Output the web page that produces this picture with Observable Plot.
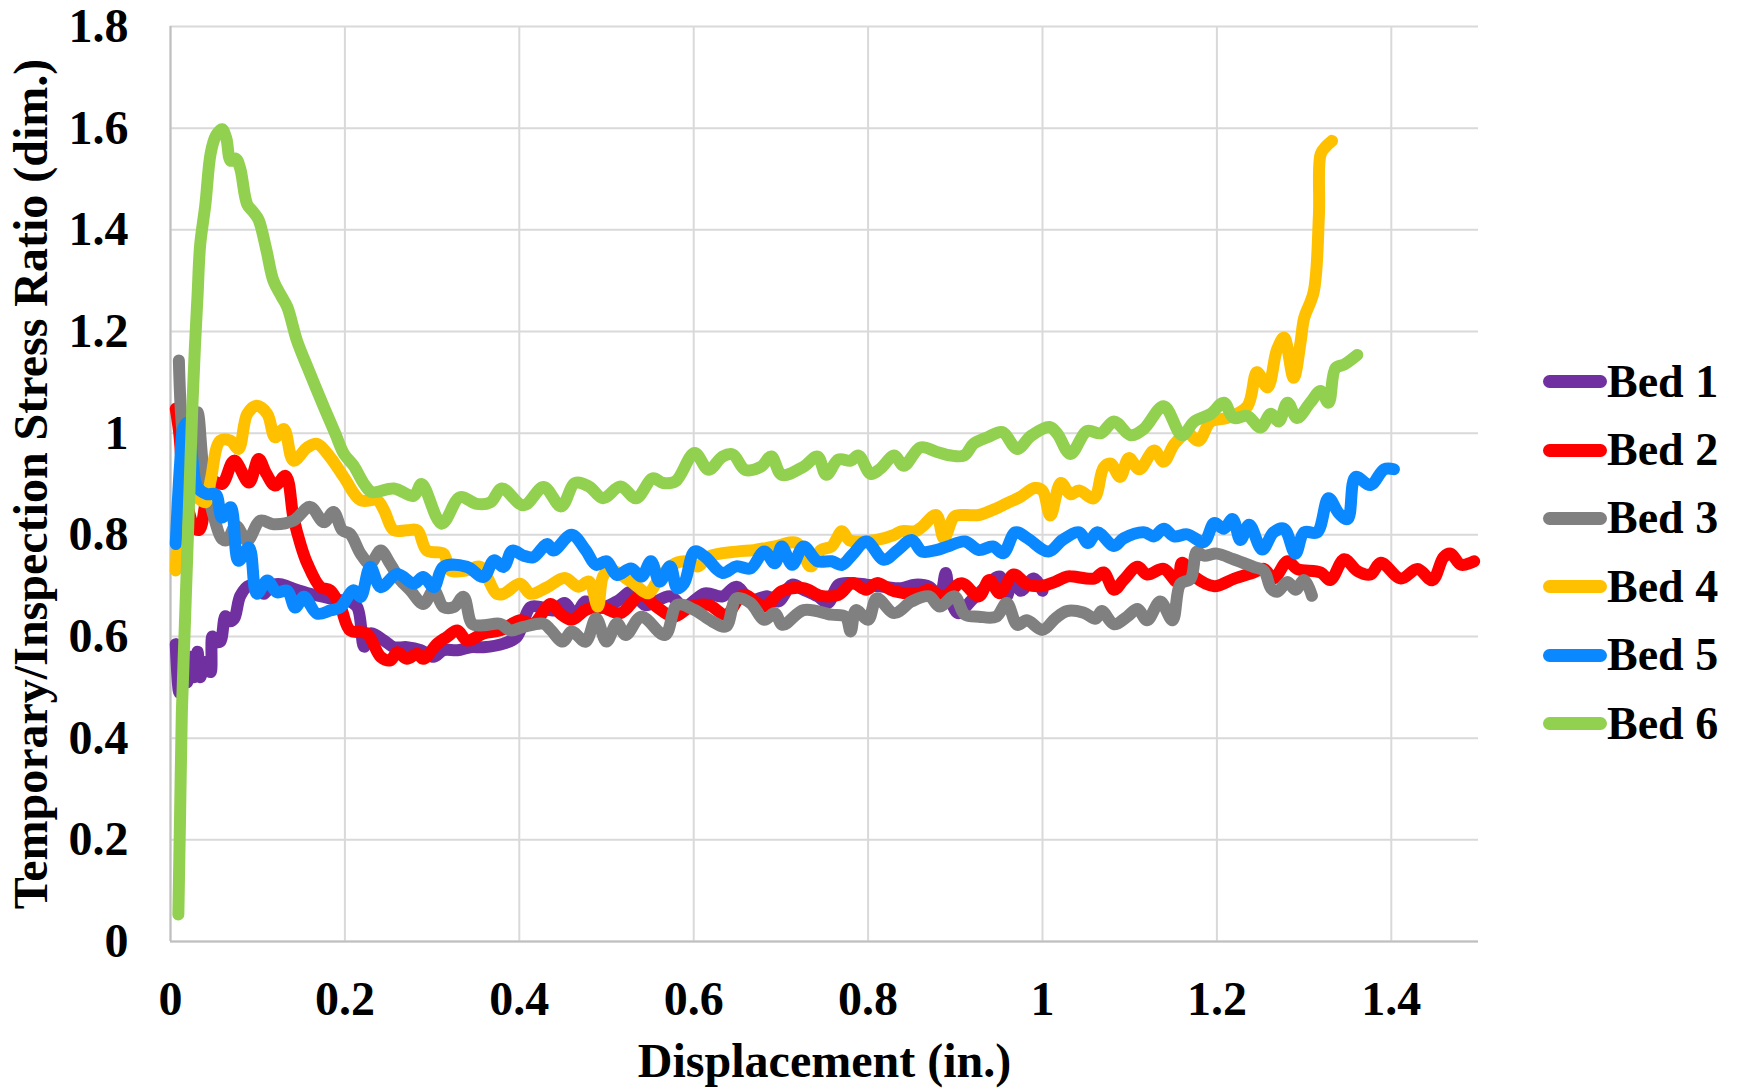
<!DOCTYPE html>
<html>
<head>
<meta charset="utf-8">
<script src="https://cdn.jsdelivr.net/npm/d3@7"></script>
<script src="https://cdn.jsdelivr.net/npm/@observablehq/plot@0.6"></script>
<style>
  html, body { margin: 0; padding: 0; background: #fff; }
  #wrap { position: relative; width: 1744px; height: 1089px; overflow: hidden; }
  #legend { position: absolute; left: 1543px; top: 347.5px; font-family: "Liberation Serif", "Times New Roman", serif; font-weight: bold; }
  .row { display: flex; align-items: center; height: 68.4px; }
  .sw { width: 64px; height: 13px; border-radius: 6.5px; }
  .lab { font-size: 46px; line-height: 1; color: #000; }
</style>
</head>
<body>
<div id="wrap"><div id="legend"></div></div>
<script>
const seriesNames = ["Bed 1", "Bed 2", "Bed 3", "Bed 4", "Bed 5", "Bed 6"];
const seriesColors = ["#7030A0", "#FF0000", "#808080", "#FFC000", "#0A88FF", "#92D050"];
const xTicks = [0, 0.2, 0.4, 0.6, 0.8, 1, 1.2, 1.4];
const xTickLabels = ["0", "0.2", "0.4", "0.6", "0.8", "1", "1.2", "1.4"];
const yTicks = [0, 0.2, 0.4, 0.6, 0.8, 1, 1.2, 1.4, 1.6, 1.8];
const yTickLabels = ["0", "0.2", "0.4", "0.6", "0.8", "1", "1.2", "1.4", "1.6", "1.8"];
const xTitle = "Displacement (in.)";
const yTitle = "Temporary/Inspection Stress Ratio (dim.)";

const bed1 = [[0.006,0.585],[0.010,0.49],[0.015,0.55],[0.019,0.51],[0.023,0.56],[0.027,0.52],[0.031,0.57],[0.034,0.52],[0.040,0.55],[0.046,0.53],[0.048,0.60],[0.052,0.59],[0.057,0.59],[0.063,0.64],[0.068,0.63],[0.073,0.635],[0.080,0.68],[0.090,0.70],[0.100,0.695],[0.107,0.684],[0.115,0.70],[0.126,0.703],[0.141,0.694],[0.160,0.684],[0.176,0.678],[0.191,0.671],[0.202,0.671],[0.214,0.658],[0.222,0.58],[0.229,0.606],[0.245,0.592],[0.256,0.579],[0.271,0.579],[0.287,0.573],[0.302,0.560],[0.313,0.573],[0.329,0.573],[0.344,0.579],[0.359,0.579],[0.382,0.586],[0.397,0.599],[0.413,0.658],[0.424,0.658],[0.439,0.651],[0.452,0.666],[0.464,0.643],[0.476,0.669],[0.492,0.656],[0.512,0.669],[0.530,0.689],[0.544,0.662],[0.573,0.679],[0.589,0.659],[0.613,0.685],[0.633,0.679],[0.649,0.698],[0.665,0.672],[0.685,0.679],[0.697,0.669],[0.713,0.702],[0.726,0.692],[0.742,0.679],[0.754,0.666],[0.766,0.702],[0.782,0.705],[0.798,0.702],[0.818,0.698],[0.838,0.695],[0.854,0.702],[0.870,0.698],[0.882,0.679],[0.889,0.725],[0.893,0.685],[0.903,0.646],[0.919,0.672],[0.931,0.692],[0.939,0.705],[0.951,0.718],[0.959,0.679],[0.966,0.72],[0.975,0.69],[0.990,0.714],[1.0,0.69]];

const bed2 = [[0.006,1.048],[0.010,1.0],[0.015,0.90],[0.022,0.84],[0.027,0.815],[0.033,0.81],[0.040,0.861],[0.046,0.907],[0.059,0.900],[0.073,0.946],[0.090,0.903],[0.101,0.949],[0.110,0.92],[0.120,0.897],[0.132,0.916],[0.141,0.834],[0.149,0.782],[0.157,0.743],[0.172,0.697],[0.183,0.691],[0.195,0.658],[0.206,0.612],[0.225,0.606],[0.241,0.560],[0.252,0.553],[0.260,0.569],[0.271,0.556],[0.283,0.566],[0.290,0.556],[0.306,0.586],[0.317,0.599],[0.329,0.612],[0.340,0.592],[0.359,0.606],[0.378,0.612],[0.401,0.632],[0.416,0.625],[0.436,0.664],[0.447,0.645],[0.460,0.633],[0.476,0.652],[0.492,0.659],[0.516,0.646],[0.540,0.682],[0.557,0.659],[0.577,0.639],[0.597,0.659],[0.617,0.662],[0.637,0.643],[0.657,0.682],[0.681,0.659],[0.701,0.689],[0.726,0.695],[0.746,0.68],[0.766,0.682],[0.782,0.705],[0.798,0.692],[0.810,0.705],[0.830,0.689],[0.858,0.685],[0.870,0.692],[0.887,0.679],[0.907,0.705],[0.927,0.679],[0.939,0.711],[0.951,0.685],[0.967,0.722],[0.982,0.703],[0.998,0.699],[1.015,0.708],[1.028,0.718],[1.035,0.718],[1.059,0.714],[1.070,0.726],[1.082,0.692],[1.093,0.711],[1.109,0.737],[1.120,0.722],[1.139,0.733],[1.155,0.707],[1.160,0.745],[1.174,0.718],[1.197,0.699],[1.220,0.714],[1.242,0.726],[1.254,0.733],[1.265,0.714],[1.281,0.748],[1.292,0.733],[1.319,0.726],[1.330,0.711],[1.346,0.752],[1.361,0.729],[1.376,0.722],[1.388,0.745],[1.411,0.714],[1.430,0.733],[1.447,0.711],[1.460,0.756],[1.468,0.763],[1.480,0.741],[1.495,0.748]];

const bed3 = [[0.0096,1.143],[0.014,1.0],[0.020,0.95],[0.026,1.0],[0.031,1.041],[0.038,0.926],[0.050,0.834],[0.059,0.792],[0.065,0.79],[0.075,0.818],[0.088,0.789],[0.103,0.828],[0.118,0.821],[0.141,0.828],[0.160,0.855],[0.176,0.825],[0.187,0.845],[0.197,0.809],[0.206,0.802],[0.218,0.763],[0.229,0.743],[0.241,0.769],[0.252,0.743],[0.264,0.710],[0.275,0.691],[0.290,0.664],[0.302,0.691],[0.313,0.658],[0.325,0.658],[0.336,0.678],[0.346,0.625],[0.359,0.622],[0.378,0.625],[0.390,0.612],[0.405,0.619],[0.428,0.625],[0.436,0.613],[0.450,0.590],[0.460,0.610],[0.476,0.590],[0.488,0.636],[0.500,0.590],[0.512,0.626],[0.522,0.603],[0.540,0.639],[0.567,0.603],[0.581,0.662],[0.601,0.652],[0.621,0.630],[0.637,0.620],[0.649,0.675],[0.665,0.666],[0.681,0.633],[0.693,0.646],[0.702,0.623],[0.726,0.652],[0.758,0.643],[0.774,0.639],[0.780,0.610],[0.786,0.652],[0.800,0.633],[0.810,0.675],[0.830,0.646],[0.850,0.669],[0.870,0.679],[0.882,0.659],[0.899,0.679],[0.911,0.643],[0.927,0.639],[0.947,0.639],[0.959,0.666],[0.971,0.623],[0.982,0.632],[1.0,0.613],[1.015,0.636],[1.028,0.65],[1.047,0.647],[1.061,0.635],[1.068,0.650],[1.082,0.624],[1.097,0.639],[1.109,0.654],[1.120,0.632],[1.135,0.669],[1.149,0.632],[1.158,0.703],[1.170,0.714],[1.177,0.767],[1.185,0.759],[1.200,0.763],[1.219,0.752],[1.242,0.737],[1.254,0.729],[1.262,0.695],[1.269,0.688],[1.281,0.707],[1.290,0.692],[1.300,0.711],[1.309,0.680]];

const bed4 = [[0.006,0.73],[0.008,0.78],[0.015,0.84],[0.022,0.87],[0.029,0.874],[0.040,0.864],[0.046,0.907],[0.057,0.985],[0.069,0.985],[0.078,0.969],[0.088,1.038],[0.099,1.054],[0.111,1.038],[0.120,0.992],[0.130,1.008],[0.141,0.946],[0.157,0.972],[0.168,0.979],[0.183,0.953],[0.199,0.913],[0.218,0.868],[0.237,0.868],[0.245,0.848],[0.256,0.809],[0.271,0.809],[0.283,0.809],[0.294,0.769],[0.313,0.763],[0.321,0.730],[0.340,0.730],[0.355,0.737],[0.374,0.684],[0.382,0.684],[0.401,0.704],[0.413,0.684],[0.432,0.697],[0.452,0.715],[0.468,0.698],[0.480,0.708],[0.490,0.659],[0.496,0.718],[0.504,0.731],[0.528,0.708],[0.548,0.685],[0.557,0.705],[0.573,0.738],[0.589,0.748],[0.605,0.738],[0.617,0.757],[0.649,0.767],[0.669,0.770],[0.693,0.777],[0.718,0.784],[0.734,0.738],[0.746,0.770],[0.758,0.777],[0.770,0.807],[0.778,0.790],[0.790,0.787],[0.810,0.790],[0.830,0.800],[0.838,0.807],[0.854,0.807],[0.862,0.816],[0.878,0.839],[0.887,0.793],[0.899,0.836],[0.911,0.839],[0.927,0.839],[0.947,0.852],[0.959,0.862],[0.975,0.875],[0.991,0.892],[1.000,0.887],[1.009,0.838],[1.021,0.902],[1.032,0.880],[1.042,0.887],[1.059,0.872],[1.070,0.932],[1.078,0.940],[1.089,0.914],[1.099,0.951],[1.111,0.929],[1.128,0.966],[1.139,0.944],[1.151,0.978],[1.166,1.0],[1.179,0.985],[1.193,1.023],[1.212,1.030],[1.235,1.053],[1.246,1.120],[1.258,1.090],[1.269,1.165],[1.277,1.188],[1.288,1.109],[1.296,1.180],[1.300,1.226],[1.311,1.278],[1.317,1.429],[1.319,1.549],[1.325,1.564],[1.332,1.575]];

const bed5 = [[0.006,0.782],[0.011,0.939],[0.015,1.011],[0.020,1.02],[0.025,0.95],[0.031,0.893],[0.042,0.880],[0.052,0.880],[0.059,0.834],[0.069,0.854],[0.078,0.749],[0.090,0.775],[0.099,0.684],[0.111,0.710],[0.122,0.687],[0.134,0.690],[0.143,0.657],[0.153,0.678],[0.168,0.645],[0.183,0.651],[0.195,0.658],[0.210,0.691],[0.218,0.678],[0.229,0.737],[0.241,0.697],[0.260,0.723],[0.279,0.704],[0.290,0.717],[0.302,0.697],[0.313,0.737],[0.340,0.737],[0.359,0.717],[0.371,0.750],[0.382,0.737],[0.392,0.769],[0.405,0.759],[0.416,0.756],[0.432,0.782],[0.439,0.769],[0.460,0.800],[0.476,0.770],[0.488,0.741],[0.500,0.748],[0.512,0.721],[0.528,0.734],[0.540,0.718],[0.551,0.748],[0.561,0.708],[0.573,0.738],[0.581,0.695],[0.589,0.705],[0.601,0.767],[0.613,0.757],[0.633,0.725],[0.649,0.738],[0.665,0.734],[0.681,0.767],[0.693,0.744],[0.701,0.777],[0.713,0.741],[0.726,0.777],[0.742,0.748],[0.758,0.748],[0.770,0.741],[0.782,0.761],[0.798,0.787],[0.818,0.751],[0.834,0.770],[0.850,0.790],[0.862,0.767],[0.878,0.770],[0.891,0.777],[0.911,0.787],[0.927,0.770],[0.943,0.777],[0.955,0.764],[0.969,0.805],[0.983,0.793],[1.007,0.767],[1.023,0.790],[1.042,0.805],[1.052,0.784],[1.063,0.805],[1.082,0.778],[1.093,0.793],[1.116,0.805],[1.128,0.797],[1.139,0.812],[1.151,0.797],[1.166,0.801],[1.185,0.786],[1.197,0.823],[1.208,0.812],[1.218,0.831],[1.227,0.790],[1.237,0.820],[1.252,0.771],[1.265,0.805],[1.277,0.812],[1.290,0.763],[1.300,0.805],[1.315,0.805],[1.328,0.872],[1.340,0.842],[1.350,0.831],[1.359,0.914],[1.376,0.898],[1.392,0.929],[1.403,0.929]];

const bed6 = [[0.009,0.053],[0.011,0.25],[0.013,0.45],[0.016,0.60],[0.019,0.75],[0.022,0.9],[0.025,1.05],[0.028,1.17],[0.031,1.27],[0.034,1.37],[0.040,1.45],[0.046,1.55],[0.052,1.585],[0.059,1.598],[0.064,1.58],[0.069,1.536],[0.075,1.54],[0.080,1.52],[0.088,1.45],[0.095,1.435],[0.101,1.42],[0.110,1.36],[0.118,1.30],[0.127,1.27],[0.134,1.248],[0.145,1.182],[0.157,1.13],[0.176,1.051],[0.189,0.999],[0.199,0.959],[0.210,0.936],[0.222,0.900],[0.231,0.884],[0.256,0.891],[0.279,0.877],[0.288,0.900],[0.311,0.822],[0.332,0.874],[0.351,0.861],[0.367,0.864],[0.380,0.891],[0.405,0.858],[0.428,0.894],[0.448,0.856],[0.464,0.902],[0.480,0.895],[0.496,0.872],[0.516,0.895],[0.534,0.872],[0.553,0.911],[0.565,0.902],[0.579,0.905],[0.601,0.961],[0.617,0.928],[0.633,0.954],[0.645,0.958],[0.659,0.928],[0.677,0.934],[0.689,0.954],[0.701,0.918],[0.726,0.934],[0.742,0.954],[0.752,0.918],[0.766,0.948],[0.780,0.946],[0.789,0.956],[0.803,0.920],[0.814,0.930],[0.830,0.956],[0.841,0.936],[0.860,0.972],[0.879,0.963],[0.895,0.956],[0.910,0.956],[0.921,0.979],[0.937,0.992],[0.954,1.002],[0.971,0.969],[0.987,0.995],[1.008,1.012],[1.017,0.999],[1.032,0.959],[1.051,1.004],[1.067,1.0],[1.082,1.023],[1.101,0.996],[1.116,1.008],[1.139,1.053],[1.160,0.996],[1.174,1.023],[1.193,1.038],[1.208,1.060],[1.219,1.030],[1.235,1.034],[1.250,1.011],[1.262,1.038],[1.271,1.023],[1.281,1.060],[1.292,1.030],[1.307,1.060],[1.319,1.083],[1.328,1.060],[1.336,1.128],[1.346,1.135],[1.361,1.154]];

const allSeries = [bed1, bed2, bed3, bed4, bed5, bed6];

const fontFamily = '"Liberation Serif", "Times New Roman", serif';

const lineMarks = allSeries.map((s, i) =>
  Plot.line(s, {
    x: d => d[0], y: d => d[1],
    stroke: seriesColors[i], strokeWidth: 12,
    strokeLinejoin: "round", strokeLinecap: "round",
    curve: "catmull-rom"
  })
);

const chart = Plot.plot({
  width: 1744,
  height: 1089,
  marginLeft: 170,
  marginRight: 266,
  marginTop: 26,
  marginBottom: 148,
  style: { fontFamily, fontSize: "48px", fontWeight: "bold", color: "#000", background: "transparent" },
  x: { domain: [0, 1.5] },
  y: { domain: [0, 1.8] },
  marks: [
    Plot.gridX(xTicks, { stroke: "#d9d9d9", strokeOpacity: 1, strokeWidth: 2 }),
    Plot.gridY(yTicks, { stroke: "#d9d9d9", strokeOpacity: 1, strokeWidth: 2 }),
    Plot.ruleX([0], { stroke: "#bfbfbf", strokeWidth: 2 }),
    Plot.ruleY([0], { stroke: "#bfbfbf", strokeWidth: 2 }),
    Plot.axisX(xTicks, { tickSize: 0, tickPadding: 39, tickFormat: (d, i) => xTickLabels[i], label: null, fill: "#000", fontSize: 48 }),
    Plot.axisY(yTicks, { tickSize: 0, tickPadding: 42, tickFormat: (d, i) => yTickLabels[i], label: null, fill: "#000", fontSize: 48 }),
    ...lineMarks,
    Plot.text([xTitle], { text: d => d, frameAnchor: "bottom", textAnchor: "middle", lineAnchor: "middle", dy: 120.6, fontSize: 48, fill: "#000" }),
    Plot.text([yTitle], { text: d => d, frameAnchor: "left", textAnchor: "middle", lineAnchor: "middle", rotate: -90, dx: -138.4, fontSize: 48, fill: "#000" })
  ]
});

const wrap = document.getElementById("wrap");
wrap.insertBefore(chart, wrap.firstChild);

const legend = document.getElementById("legend");
seriesNames.forEach((name, i) => {
  const row = document.createElement("div");
  row.className = "row";
  const sw = document.createElement("span");
  sw.className = "sw";
  sw.style.background = seriesColors[i];
  const lab = document.createElement("span");
  lab.className = "lab";
  lab.textContent = name;
  row.appendChild(sw);
  row.appendChild(lab);
  legend.appendChild(row);
});
</script>
</body>
</html>
